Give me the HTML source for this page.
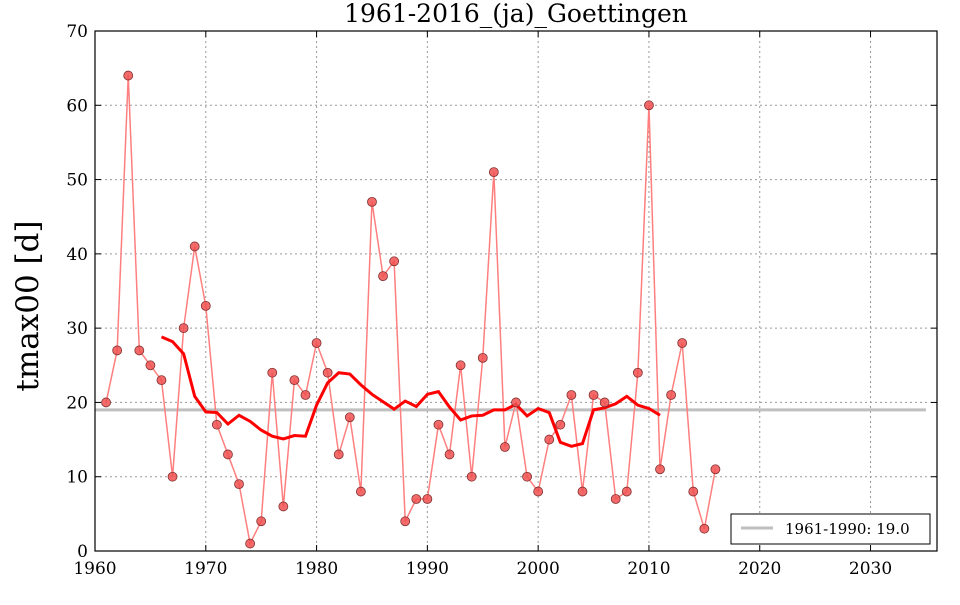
<!DOCTYPE html>
<html><head><meta charset="utf-8"><style>
body{margin:0;background:#fff;}
svg text{font-family:"DejaVu Serif","Liberation Serif",serif;}
</style></head><body>
<svg id="s" width="960" height="600" xmlns="http://www.w3.org/2000/svg"></svg>
<script>
const d=[20,27,64,27,25,23,10,30,41,33,17,13,9,1,4,24,6,23,21,28,24,13,18,8,47,37,39,4,7,7,17,13,25,10,26,51,14,20,10,8,15,17,21,8,21,20,7,8,24,60,11,21,28,8,3,11];
const X0=95,X1=937,Y0=551,Y1=31;
const fx=y=>X0+(y-1960)*(X1-X0)/76, fy=v=>Y0-v*(Y0-Y1)/70;
let h='';
for(let y=1970;y<=2030;y+=10)h+=`<line x1="${fx(y)}" y1="${Y1}" x2="${fx(y)}" y2="${Y0}" stroke="#999" stroke-dasharray="2,3"/>`;
for(let v=10;v<70;v+=10)h+=`<line x1="${X0}" y1="${fy(v)}" x2="${X1}" y2="${fy(v)}" stroke="#999" stroke-dasharray="2,3"/>`;
h+=`<line x1="${X0}" y1="${fy(19)}" x2="${fx(2035)}" y2="${fy(19)}" stroke="#bfbfbf" stroke-width="3"/>`;
let p=d.map((v,i)=>fx(1961+i)+','+fy(v)).join(' ');
h+=`<polyline points="${p}" fill="none" stroke="#ff7f7f" stroke-width="1.5"/>`;
let m=[];for(let i=5;i<d.length-5;i++){let s=0;for(let j=i-5;j<=i+5;j++)s+=d[j];m.push(fx(1961+i)+','+fy(s/11));}
h+=`<polyline points="${m.join(' ')}" fill="none" stroke="#f00" stroke-width="3"/>`;
d.forEach((v,i)=>h+=`<circle cx="${fx(1961+i)}" cy="${fy(v)}" r="4.5" fill="#f05050" fill-opacity="0.85" stroke="#803030" stroke-width="0.8"/>`);
h+=`<rect x="${X0}" y="${Y1}" width="${X1-X0}" height="${Y0-Y1}" fill="none" stroke="#000" stroke-width="1.2"/>`;
for(let y=1960;y<=2030;y+=10){h+=`<line x1="${fx(y)}" y1="${Y0}" x2="${fx(y)}" y2="${Y0-6}" stroke="#000"/><line x1="${fx(y)}" y1="${Y1}" x2="${fx(y)}" y2="${Y1+6}" stroke="#000"/><text x="${fx(y)}" y="574" font-size="17" text-anchor="middle">${y}</text>`;}
for(let v=0;v<=70;v+=10){h+=`<line x1="${X0}" y1="${fy(v)}" x2="${X0+6}" y2="${fy(v)}" stroke="#000"/><line x1="${X1}" y1="${fy(v)}" x2="${X1-6}" y2="${fy(v)}" stroke="#000"/><text x="88" y="${fy(v)+6}" font-size="17" text-anchor="end">${v}</text>`;}
h+=`<text x="516" y="22" font-size="25" text-anchor="middle">1961-2016_(ja)_Goettingen</text>`;
h+=`<text transform="translate(38,306) rotate(-90)" font-size="31" text-anchor="middle">tmax00 [d]</text>`;
h+=`<rect x="731" y="514" width="199" height="30" fill="#fff" stroke="#000"/><line x1="741" y1="528" x2="773" y2="528" stroke="#bfbfbf" stroke-width="3"/><text x="785" y="534" font-size="15">1961-1990: 19.0</text>`;
document.getElementById('s').innerHTML=h;
</script>
</body></html>
